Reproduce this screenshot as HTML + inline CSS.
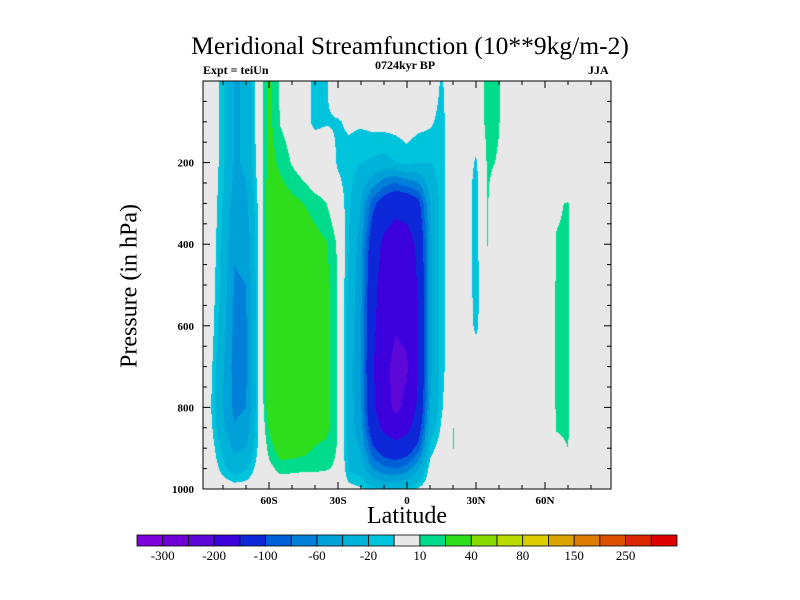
<!DOCTYPE html>
<html><head><meta charset="utf-8">
<style>
html,body{margin:0;padding:0;background:#fff;}
#root{position:relative;width:800px;height:600px;overflow:hidden;font-family:"Liberation Serif",serif;}
.t{position:absolute;white-space:nowrap;color:#000;}
</style></head>
<body>
<div id="root">
<div class="t" style="left:0;width:820px;text-align:center;top:31px;font-size:25.5px;">Meridional Streamfunction (10**9kg/m-2)</div>
<div class="t" style="left:203px;top:63px;font-size:12px;font-weight:bold;">Expt = teiUn</div>
<div class="t" style="left:305px;width:200px;text-align:center;top:58px;font-size:12px;font-weight:bold;">0724kyr BP</div>
<div class="t" style="left:588px;top:63px;font-size:12px;font-weight:bold;">JJA</div>
<div class="t" style="left:130px;top:286px;font-size:24px;transform:translate(-50%,-50%) rotate(-90deg);">Pressure (in hPa)</div>
<div class="t" style="left:307px;width:200px;text-align:center;top:503px;font-size:24px;">Latitude</div>
<canvas id="field" width="408" height="408" style="position:absolute;left:203px;top:81px;"></canvas>
<svg id="ov" width="800" height="600" style="position:absolute;left:0;top:0;"></svg>
</div>
<script>
const lats = [-90,-85,-80,-75,-70,-65,-60,-55,-50,-45,-40,-35,-30,-25,-20,-15,-10,-5,0,5,10,15,20,25,30,35,40,45,50,55,60,65,70,75,80,85,90];
const pressures = [10,100,200,250,300,400,500,600,700,800,850,900,950,1000];
const psiByLat = [
[0,0,0,0,0,0,0,0,0,0,0,0,0,0],
[0,0,0,0,0,0,-2,-4,-8,-11,-8,-4,-1,0],
[-15,-15,-16,-18,-20,-25,-28,-32,-38,-40,-35,-25,-15,0],
[-42,-42,-42,-45,-50,-58,-62,-65,-68,-65,-58,-45,-28,-2],
[-38,-38,-38,-40,-45,-55,-60,-63,-64,-60,-52,-40,-22,-2],
[-2,-3,-5,-8,-10,-12,-12,-12,-12,-12,-12,-10,-5,0],
[24,24,26,28,30,32,32,32,32,30,22,14,6,0],
[8,9,17,22,28,33,33,33,33,33,32,28,14,0],
[3,4,9,16,24,32,32,32,32,32,32,28,13,0],
[-5,-5,2,11,20,30,30,30,30,30,30,25,12,0],
[-13,-13,2,5,15,25,28,28,28,28,28,19,12,0],
[-11,-11,0,3,10,21,24,24,24,24,24,16,11,0],
[0,-11,-12,-7,0,8,9,9,9,9,9,9,8,0],
[0,-8,-14,-16,-18,-22,-25,-28,-30,-30,-30,-28,-22,-5],
[0,-8,-20,-30,-40,-50,-55,-58,-60,-58,-52,-42,-28,-8],
[0,-6,-22,-50,-90,-125,-135,-140,-145,-140,-125,-95,-60,-15],
[0,-5,-25,-70,-120,-160,-170,-175,-185,-180,-160,-120,-75,-20],
[0,-5,-20,-80,-135,-175,-185,-195,-215,-210,-180,-130,-80,-20],
[0,-4,-15,-70,-130,-170,-180,-190,-205,-190,-165,-120,-70,-15],
[0,-6,-20,-60,-110,-140,-145,-150,-150,-140,-120,-90,-40,-8],
[0,-8,-20,-30,-40,-45,-45,-45,-45,-40,-30,-15,-5,0],
[-12,-14,-14,-14,-14,-14,-14,-14,-14,-12,-8,-3,0,0],
[0,0,0,0,0,0,0,0,0,5,10.5,10.5,8,0],
[0,0,0,0,0,0,0,0,0,0,0,0,0,0],
[0,0,-12,-15,-15,-15,-15,-13,0,0,0,0,0,0],
[14,14,12,11,10.5,10.2,5,2,0,0,0,0,0,0],
[10.5,10.5,9,5,3,1,0,0,0,0,0,0,0,0],
[0,0,0,0,0,0,0,0,0,0,0,0,0,0],
[0,0,0,0,0,0,0,0,0,0,0,0,0,0],
[0,0,0,0,0,0,0,0,0,0,0,0,0,0],
[0,0,0,0,0,0,0,0,0,0,0,0,0,0],
[0,0,0,0,9,10.5,11,11,11,11,10.5,8,0,0],
[0,0,0,0,10.6,11,11,11,11,11,11,10,0,0],
[0,0,0,0,0,0,0,0,0,0,0,0,0,0],
[0,0,0,0,0,0,0,0,0,0,0,0,0,0],
[0,0,0,0,0,0,0,0,0,0,0,0,0,0],
[0,0,0,0,0,0,0,0,0,0,0,0,0,0]
];
const levels = [-300,-250,-200,-150,-100,-80,-60,-40,-20,-10,10,20,40,60,80,100,150,200,250,300];
const levelColors = ["#7f00dc","#7000d8","#5c08d8","#3c00dc","#0c28d8","#0060d8","#0080d8","#00a0d8","#00b2d8","#00c4dc","#e8e8e8","#00dc8c","#2ede1c","#88dc00","#bcdc00","#dccc00","#dca400","#dc7c00","#dc5000","#dc2800","#dc0000"];
const barLabels = ["-300","-200","-100","-60","-20","10","40","80","150","250"];
const barLabelIdx = [0,2,4,6,8,10,12,14,16,18];
const xTickLats = [-60,-30,0,30,60];
const xTickText = ["60S","30S","0","30N","60N"];
const yTickP = [200,400,600,800,1000];

const X0=203,X1=611,Y0=81,Y1=489;
function xOf(lat){return 407+2.3*lat;}
function latOf(x){return (x-407)/2.3;}
function yOf(p){return 81+0.408*p;}
function pOf(y){return (y-81)/0.408;}
function hex(c){return [parseInt(c.substr(1,2),16),parseInt(c.substr(3,2),16),parseInt(c.substr(5,2),16)];}
function sample(lat,p){
  let i=0;while(i<lats.length-2&&lat>lats[i+1])i++;
  let j=0;while(j<pressures.length-2&&p>pressures[j+1])j++;
  let fx=(lat-lats[i])/(lats[i+1]-lats[i]);fx=Math.max(0,Math.min(1,fx));
  let fy=(p-pressures[j])/(pressures[j+1]-pressures[j]);fy=Math.max(0,Math.min(1,fy));
  const a=psiByLat[i][j],b=psiByLat[i+1][j],c=psiByLat[i][j+1],d=psiByLat[i+1][j+1];
  return (a*(1-fx)+b*fx)*(1-fy)+(c*(1-fx)+d*fx)*fy;
}
const cv=document.getElementById('field');const ctx=cv.getContext('2d');
const img=ctx.createImageData(408,408);const rgb=levelColors.map(hex);
for(let py=0;py<408;py++){const p=pOf(Y0+py+0.5);
  for(let px=0;px<408;px++){const v=sample(latOf(X0+px+0.5),p);
    let k=0;while(k<levels.length&&v>=levels[k])k++;const c=rgb[k];const o=(py*408+px)*4;
    img.data[o]=c[0];img.data[o+1]=c[1];img.data[o+2]=c[2];img.data[o+3]=255;}}
ctx.putImageData(img,0,0);

const NS='http://www.w3.org/2000/svg';const ov=document.getElementById('ov');
function mk(tag,attrs){const e=document.createElementNS(NS,tag);for(const k in attrs)e.setAttribute(k,attrs[k]);ov.appendChild(e);return e;}
let fr=mk('rect',{x:X0,y:Y0,width:X1-X0,height:Y1-Y0,fill:'none',stroke:'#000','stroke-width':1});


for(let lat=-80;lat<=80;lat+=10){const x=xOf(lat);const L=(lat%30===0)?7:4;
  let t1=mk('line',{x1:x,x2:x,y1:Y1,y2:Y1-L,stroke:'#000'});
  
  
  let t2=mk('line',{x1:x,x2:x,y1:Y0,y2:Y0+L,stroke:'#000'});
  
  }
xTickLats.forEach((lat,i)=>{const t=mk('text',{x:xOf(lat),y:Y1+15,'text-anchor':'middle','font-size':11,'font-weight':'bold','font-family':'Liberation Serif, serif'});t.textContent=xTickText[i];
  
  });
for(let p=50;p<=950;p+=50){const y=yOf(p);const L=(p%200===0)?7:4;
  let t1=mk('line',{x1:X0,x2:X0+L,y1:y,y2:y,stroke:'#000'});
  
  
  let t2=mk('line',{x1:X1,x2:X1-L,y1:y,y2:y,stroke:'#000'});
  
  }
yTickP.forEach(p=>{const t=mk('text',{x:X0-9,y:yOf(p)+4,'text-anchor':'end','font-size':11,'font-weight':'bold','font-family':'Liberation Serif, serif'});t.textContent=String(p);
  
  });
const BX=137,BW=540/levelColors.length,BY=535,BH=11;
levelColors.forEach((c,i)=>{const r=mk('rect',{x:BX+i*BW,y:BY,width:BW,height:BH,fill:c,stroke:'#000','stroke-width':0.8});
  
  });
barLabelIdx.forEach((k,i)=>{const t=mk('text',{x:BX+(k+1)*BW,y:BY+BH+14,'text-anchor':'middle','font-size':13,'font-family':'Liberation Serif, serif'});t.textContent=barLabels[i];
  
  });
</script>
</body></html>
